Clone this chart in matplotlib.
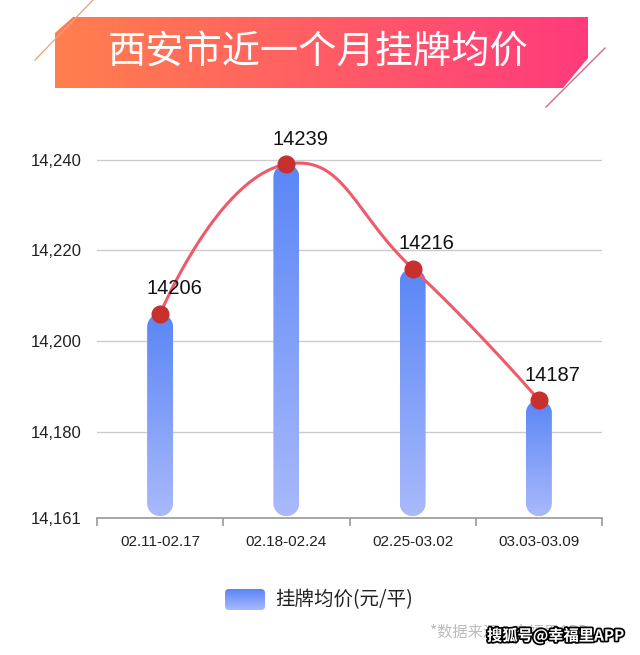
import numpy as np
import matplotlib
matplotlib.use("Agg")
import matplotlib.pyplot as plt
from matplotlib.path import Path
from matplotlib.patches import PathPatch, Polygon, FancyBboxPatch
import matplotlib.patheffects as pe

plt.rcParams['font.family'] = ['Liberation Sans', 'Noto Sans CJK SC', 'DejaVu Sans']

# Data
weeks = ["02.11-02.17", "02.18-02.24", "02.25-03.02", "03.03-03.09"]
prices = [14206, 14239, 14216, 14187]
y_ticks = [14161, 14180, 14200, 14220, 14240]
title = "西安市近一个月挂牌均价"
legend_label = "挂牌均价(元/平)"
source_note = "*数据来源：幸福里APP"
watermark = "搜狐号@幸福里APP"

W, H = 640, 655
fig = plt.figure(figsize=(W / 100, H / 100), dpi=100)
fig.patch.set_facecolor("white")

# main chart axes
ax = fig.add_axes([97 / W, 1 - 518 / H, (602 - 97) / W, (518 - 137) / H])
x = np.arange(len(weeks))
ax.set_xlim(-0.5, len(weeks) - 0.5)
ax.set_ylim(14161, 14245)

for s in ["left", "right", "top"]:
    ax.spines[s].set_visible(False)
ax.spines["bottom"].set_color("#999999")
ax.spines["bottom"].set_linewidth(1.2)

ax.set_yticks(y_ticks)
ax.set_yticklabels([f"{v:,}" for v in y_ticks], fontsize=12, color="#222222")
ax.tick_params(axis="y", length=0, pad=11)
ax.grid(axis="y", color="#cccccc", linewidth=1)
ax.set_axisbelow(True)

ax.set_xticks(np.arange(-0.5, len(weeks)))
ax.set_xticklabels([])
ax.set_xticks(x, minor=True)
ax.set_xticklabels(weeks, minor=True, fontsize=11, color="#222222")
ax.tick_params(axis="x", which="major", length=6, color="#999999", width=1.2)
ax.tick_params(axis="x", which="minor", length=0, pad=12)

# pixel size in data units
p0 = ax.transData.inverted().transform((0, 0))
p1 = ax.transData.inverted().transform((1, 1))
dx_px = p1[0] - p0[0]
dy_px = p1[1] - p0[1]

grad = np.linspace(0, 1, 256).reshape(-1, 1)
bar_cmap = matplotlib.colors.LinearSegmentedColormap.from_list("bar", ["#a9b9fb", "#5a86f6"])

r_px = 13
bottom = 14161.4
for xi, val in zip(x, prices):
    rx, ry = r_px * dx_px, r_px * dy_px
    t = np.linspace(0, np.pi, 30)
    top_arc = np.column_stack([xi + rx * np.cos(t), val - ry + ry * np.sin(t)])
    bot_arc = np.column_stack([xi - rx * np.cos(t), bottom + ry - ry * np.sin(t)])
    verts = np.vstack([top_arc, bot_arc, top_arc[:1]])
    patch = PathPatch(Path(verts), facecolor="none", edgecolor="none")
    ax.add_patch(patch)
    im = ax.imshow(grad, extent=[xi - rx, xi + rx, bottom, val], origin="lower",
                   cmap=bar_cmap, aspect="auto", zorder=2)
    im.set_clip_path(patch)

ax.set_xlim(-0.5, len(weeks) - 0.5)
ax.set_ylim(14161, 14245)

# smooth line (bezier, echarts-like smoothing in pixel space)
pts = ax.transData.transform(np.column_stack([x, prices]))
smooth = 0.5
cps = []
for i in range(len(pts)):
    if i == 0 or i == len(pts) - 1:
        cps.append((pts[i], pts[i]))
        continue
    v = pts[i + 1] - pts[i - 1]
    d0 = np.linalg.norm(pts[i] - pts[i - 1])
    d1 = np.linalg.norm(pts[i + 1] - pts[i])
    s = d0 + d1
    cps.append((pts[i] - v * smooth * d0 / s, pts[i] + v * smooth * d1 / s))
curve = []
tt = np.linspace(0, 1, 60)[:, None]
for i in range(len(pts) - 1):
    a, b = pts[i], cps[i][1]
    c, d = cps[i + 1][0], pts[i + 1]
    seg = (1 - tt) ** 3 * a + 3 * (1 - tt) ** 2 * tt * b + 3 * (1 - tt) * tt ** 2 * c + tt ** 3 * d
    curve.append(seg)
curve = ax.transData.inverted().transform(np.vstack(curve))
ax.plot(curve[:, 0], curve[:, 1], color="#ee5a6a", linewidth=2.2, zorder=3, clip_on=False)
ax.plot(x, prices, "o", color="#c8302e", markersize=12, zorder=4, clip_on=False)

for xi, val in zip(x, prices):
    ax.annotate(str(val), (xi, val), xytext=(14, 25), textcoords="offset pixels",
                ha="center", va="center", fontsize=14.5, color="#111111", zorder=5)

# overlay axes in pixel coordinates for banner, legend and footer
ov = fig.add_axes([0, 0, 1, 1], zorder=10)
ov.set_xlim(0, W)
ov.set_ylim(H, 0)
ov.axis("off")
ov.patch.set_alpha(0)

banner = Polygon([(73, 17), (588, 17), (588, 58), (563, 88), (55, 88), (55, 33)],
                 closed=True, facecolor="none", edgecolor="none")
ov.add_patch(banner)
ban_cmap = matplotlib.colors.LinearSegmentedColormap.from_list("ban", ["#ff7f4e", "#ff3b7c"])
bim = ov.imshow(np.linspace(0, 1, 256).reshape(1, -1), extent=[55, 588, 88, 17],
                cmap=ban_cmap, aspect="auto")
bim.set_clip_path(banner)
ov.plot([35, 93], [60, 0], color="#e8a27c", linewidth=0.9)
ov.plot([605, 546], [48, 107], color="#d0607a", linewidth=0.9)
ov.text(318, 53, title, ha="center", va="center", fontsize=27.5, color="white",
        fontweight="light", family=["Noto Sans CJK SC", "DejaVu Sans"])

# legend
leg = FancyBboxPatch((225, 589), 40, 21, boxstyle="round,pad=0,rounding_size=4",
                     facecolor="none", edgecolor="none")
ov.add_patch(leg)
lim = ov.imshow(grad, extent=[225, 265, 610, 589], origin="lower", cmap=bar_cmap, aspect="auto")
lim.set_clip_path(leg)
ov.text(275, 600, legend_label, ha="left", va="center", fontsize=14, color="#222222",
        family=["Noto Sans CJK SC", "DejaVu Sans"])

ov.text(430, 632, source_note, ha="left", va="center", fontsize=11, color="#bbbbbb",
        family=["Noto Sans CJK SC", "DejaVu Sans"])
ov.text(487, 636, watermark, ha="left", va="center", fontsize=11, color="white",
        fontweight="bold", family=["Noto Sans CJK SC", "DejaVu Sans"],
        path_effects=[pe.withStroke(linewidth=2.5, foreground="black")])
ov.set_xlim(0, W)
ov.set_ylim(H, 0)

fig.savefig("out.png", dpi=100)
